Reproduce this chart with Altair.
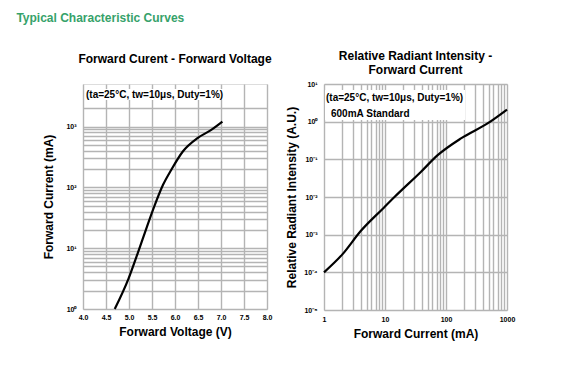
import altair as alt
import pandas as pd

# ---------------- data ----------------
# Forward current vs forward voltage
vf_volt = [4.69, 4.99, 5.20, 5.38, 5.56, 5.74, 5.92, 6.17, 6.49, 6.78, 7.03]
vf_curr = [1, 3.16, 8.7, 21.4, 51, 110, 195, 389, 646, 871, 1202]

# Relative radiant intensity vs forward current
ri_curr = [1, 2.0, 4.0, 9.2, 14.3, 39, 73, 176, 480, 1000]
ri_int = [1e-4, 3e-4, 1.25e-3, 4.9e-3, 1e-2, 4.7e-2, 0.129, 0.36, 0.9, 2.1]

# axis / grid values
vf_x_ticks = [4.0, 4.5, 5.0, 5.5, 6.0, 6.5, 7.0, 7.5, 8.0]
vf_y_grid = [1, 2, 3, 4, 5, 6, 7, 8, 9,
             10, 20, 30, 40, 50, 60, 70, 80, 90,
             100, 200, 300, 400, 500, 600, 700, 800, 900,
             1000, 2000]
ri_x_grid = [1, 2, 3, 4, 5, 6, 7, 8, 9,
             10, 20, 30, 40, 50, 60, 70, 80, 90,
             100, 200, 300, 400, 500, 600, 700, 800, 900, 1000]
ri_y_decades = [1e-5, 1e-4, 1e-3, 1e-2, 1e-1, 1, 10]

note_cond = "(ta=25°C, tw=10μs, Duty=1%)"
note_std = "600mA Standard"

FONT = "Liberation Sans"
GRID = "#b4b4b4"

df_vf = pd.DataFrame({"V": vf_volt, "I": vf_curr})
df_ri = pd.DataFrame({"I": ri_curr, "R": ri_int})
one = pd.DataFrame({"k": [0]})

left_y_expr = ("datum.value == 1 ? '10⁰' : datum.value == 10 ? '10¹' : "
               "datum.value == 100 ? '10²' : datum.value == 1000 ? '10³' : ''")
right_y_expr = ("datum.value < 2e-5 ? '10⁻⁵' : datum.value < 2e-4 ? '10⁻⁴' : "
                "datum.value < 2e-3 ? '10⁻³' : datum.value < 2e-2 ? '10⁻²' : "
                "datum.value < 2e-1 ? '10⁻¹' : datum.value < 2 ? '10⁰' : '10¹'")
right_x_expr = ("datum.value == 1 ? '1' : datum.value == 10 ? '10' : "
                "datum.value == 100 ? '100' : datum.value == 1000 ? '1000' : ''")

axis_common = dict(
    labelFont=FONT, labelFontWeight="bold", labelFontSize=7, labelColor="#000",
    titleFont=FONT, titleFontWeight="bold", titleFontSize=12, titleColor="#000",
    grid=True, gridColor=GRID, gridWidth=1.4, ticks=False, domain=False,
    labelOverlap=False, labelFlush=False,
)

# ---------------- left panel ----------------
W1, H1 = 184, 225
left_line = alt.Chart(df_vf).mark_line(
    color="#000", strokeWidth=2.2, interpolate="monotone"
).encode(
    x=alt.X("V:Q", scale=alt.Scale(domain=[4, 8], nice=False),
            axis=alt.Axis(values=vf_x_ticks, format=".1f", title="Forward Voltage (V)",
                          labelPadding=4, titlePadding=6, **axis_common)),
    y=alt.Y("I:Q", scale=alt.Scale(type="log", domain=[1, 5000], nice=False),
            axis=alt.Axis(values=vf_y_grid, labelExpr=left_y_expr, title="Forward Current (mA)",
                          labelPadding=7, titlePadding=10, **axis_common)),
)
left_box = alt.Chart(one).mark_rect(color="white").encode(
    x=alt.value(2), x2=alt.value(144), y=alt.value(5), y2=alt.value(16)
)
left_note = alt.Chart(one).mark_text(
    text=note_cond, font=FONT, fontWeight="bold", fontSize=10, align="left",
    baseline="middle", color="#000"
).encode(x=alt.value(3), y=alt.value(11))

left = alt.layer(left_line, left_box, left_note).properties(
    width=W1, height=H1,
    title=alt.TitleParams("Forward Curent - Forward Voltage", font=FONT, fontSize=12,
                          fontWeight="bold", color="#000", offset=18),
)

# ---------------- right panel ----------------
W2, H2 = 183, 226
right_line = alt.Chart(df_ri).mark_line(
    color="#000", strokeWidth=2.2, interpolate="monotone"
).encode(
    x=alt.X("I:Q", scale=alt.Scale(type="log", domain=[1, 1000], nice=False),
            axis=alt.Axis(values=ri_x_grid, labelExpr=right_x_expr, title="Forward Current (mA)",
                          labelPadding=5, titlePadding=6, **axis_common)),
    y=alt.Y("R:Q", scale=alt.Scale(type="log", domain=[1e-5, 10], nice=False),
            axis=alt.Axis(values=ri_y_decades, labelExpr=right_y_expr,
                          title="Relative Radiant Intensity (A.U.)",
                          labelPadding=7, titlePadding=5, **axis_common)),
)
right_box = alt.Chart(one).mark_rect(color="white").encode(
    x=alt.value(1), x2=alt.value(141), y=alt.value(6), y2=alt.value(36)
)
right_note1 = alt.Chart(one).mark_text(
    text=note_cond, font=FONT, fontWeight="bold", fontSize=10, align="left",
    baseline="middle", color="#000"
).encode(x=alt.value(2), y=alt.value(14))
right_note2 = alt.Chart(one).mark_text(
    text=note_std, font=FONT, fontWeight="bold", fontSize=10, align="left",
    baseline="middle", color="#000"
).encode(x=alt.value(7), y=alt.value(30))

right = alt.layer(right_line, right_box, right_note1, right_note2).properties(
    width=W2, height=H2,
    title=alt.TitleParams(["Relative Radiant Intensity -", "Forward Current"], font=FONT,
                          fontSize=12, fontWeight="bold", color="#000", offset=3,
                          lineHeight=14),
)

chart = alt.hconcat(left, right, spacing=12).properties(
    title=alt.TitleParams("Typical Characteristic Curves", anchor="start", font=FONT,
                          fontSize=12, fontWeight="bold", color="#36a26a", offset=25,
                          dx=-26),
    padding={"left": 8, "top": 3, "right": 5, "bottom": 5},
).configure_view(
    stroke="#555", strokeWidth=1.5
).configure(background="white")

chart.save("out.html", embed_options={"renderer": "svg", "actions": False})
